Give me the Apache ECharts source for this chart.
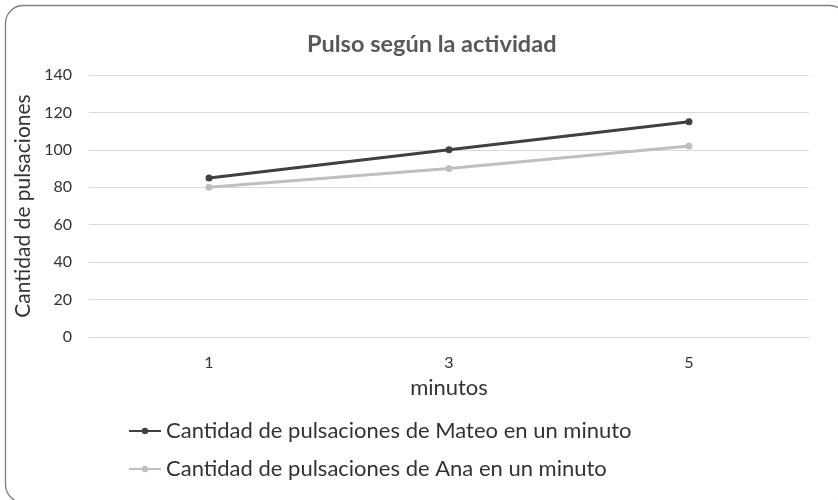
<!DOCTYPE html>
<html>
<head>
<meta charset="utf-8">
<script src="https://cdn.jsdelivr.net/npm/echarts@6/dist/echarts.min.js"></script>
<style>
  html, body { margin: 0; padding: 0; background: #fff; }
  #chart { width: 838px; height: 500px; }
</style>
</head>
<body>
<div id="chart"></div>
<script>
var minutos = ['1', '3', '5'];
var mateo = [85, 100, 115];
var ana = [80, 90, 102];
var nombreMateo = 'Cantidad de pulsaciones de Mateo en un minuto';
var nombreAna = 'Cantidad de pulsaciones de Ana en un minuto';

var fuente = 'Lato, "Open Sans", sans-serif';

var option = {
    backgroundColor: '#fff',
    textStyle: { fontFamily: fuente },
    title: {
        text: 'Pulso según la actividad',
        left: 302,
        top: 27,
        textStyle: {
            color: '#595959',
            fontSize: 23.5,
            fontWeight: 'bold',
            fontFamily: fuente
        }
    },
    graphic: [
        {
            type: 'rect',
            shape: { x: 5.5, y: 5.5, width: 842, height: 497, r: 18 },
            style: { fill: 'none', stroke: '#7f7f7f', lineWidth: 1.3 },
            silent: true
        }
    ],
    legend: {
        orient: 'vertical',
        left: 123,
        top: 414,
        itemWidth: 32,
        itemHeight: 8,
        itemGap: 14,
        textStyle: { color: '#333', fontSize: 22, lineHeight: 24, fontFamily: fuente },
        data: [nombreMateo, nombreAna]
    },
    grid: {
        left: 89,
        right: 29,
        top: 75,
        bottom: 163,
        containLabel: false
    },
    xAxis: {
        type: 'category',
        data: minutos,
        boundaryGap: true,
        name: 'minutos',
        nameLocation: 'middle',
        nameGap: 40,
        nameTextStyle: { color: '#333', fontSize: 22, fontFamily: fuente },
        axisLine: { lineStyle: { color: '#d9d9d9', width: 1 } },
        axisTick: { show: false },
        axisLabel: { color: '#333', fontSize: 16, margin: 18, fontFamily: fuente }
    },
    yAxis: {
        type: 'value',
        min: 0,
        max: 140,
        interval: 20,
        name: 'Cantidad de pulsaciones',
        nameLocation: 'middle',
        nameRotate: 90,
        nameGap: 53,
        nameTextStyle: { color: '#333', fontSize: 21, fontFamily: fuente },
        axisLine: { show: false },
        axisTick: { show: false },
        axisLabel: { color: '#333', fontSize: 16, margin: 17, fontFamily: fuente },
        splitLine: { lineStyle: { color: '#d9d9d9', width: 1 } }
    },
    series: [
        {
            name: nombreMateo,
            type: 'line',
            data: mateo,
            symbol: 'circle',
            symbolSize: 7,
            lineStyle: { color: '#404040', width: 3 },
            itemStyle: { color: '#404040' }
        },
        {
            name: nombreAna,
            type: 'line',
            data: ana,
            symbol: 'circle',
            symbolSize: 7,
            lineStyle: { color: '#bfbfbf', width: 3 },
            itemStyle: { color: '#bfbfbf' }
        }
    ]
};

var grafico = echarts.init(document.getElementById('chart'));
grafico.setOption(option);
</script>
</body>
</html>
